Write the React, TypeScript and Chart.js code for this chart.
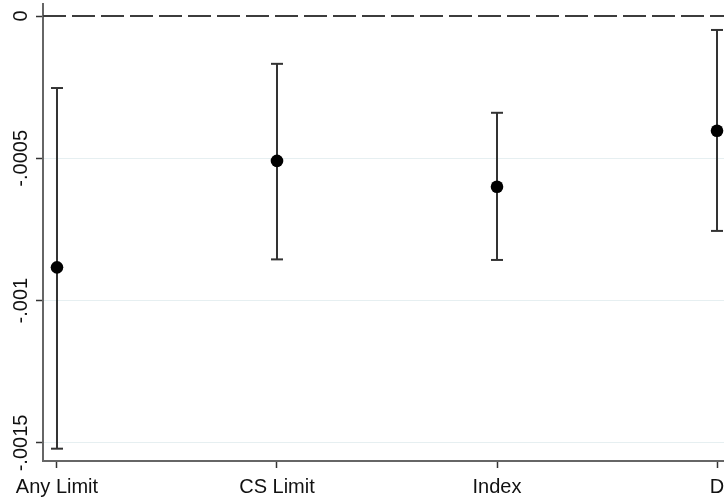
import React, { useEffect, useRef } from "react";
import { Chart, registerables } from "chart.js";

Chart.register(...registerables);

const categories = ["Any Limit", "CS Limit", "Index", "D"];
const estimates = [-0.000883, -0.000509, -0.0006, -0.000403];
const ciUpper = [-0.000253, -0.000168, -0.00034, -0.000049];
const ciLower = [-0.00152, -0.000855, -0.000857, -0.000755];
const yTickValues = [0, -0.0005, -0.001, -0.0015];
const yTickLabels = ["0", "-.0005", "-.001", "-.0015"];
const xRange = [-0.0636, 3.0318];
const yRange = [-0.0015633, 0.0000422];

const FONT = "'Liberation Sans', Arial, Helvetica, sans-serif";

export default function App() {
  const ref = useRef<HTMLCanvasElement | null>(null);

  useEffect(() => {
    if (!ref.current) return;
    const pointData = categories.map((_, i) => ({ x: i, y: estimates[i] }));
    const ciData: { x: number; y: number | null }[] = [];
    categories.forEach((_, i) => {
      ciData.push({ x: i, y: ciUpper[i] });
      ciData.push({ x: i, y: ciLower[i] });
      ciData.push({ x: i + 0.5, y: null });
    });
    const zeroData = [
      { x: xRange[0], y: 0 },
      { x: xRange[1], y: 0 },
    ];

    const chart = new Chart(ref.current, {
      type: "scatter",
      data: {
        datasets: [
          {
            type: "scatter",
            data: pointData,
            pointRadius: 6.3,
            pointHoverRadius: 6.3,
            pointBackgroundColor: "#000",
            pointBorderColor: "#000",
            pointBorderWidth: 0,
          },
          {
            type: "line",
            data: ciData,
            showLine: true,
            spanGaps: false,
            borderColor: "#333",
            borderWidth: 2,
            pointStyle: "line",
            pointRadius: 6,
            pointHoverRadius: 6,
            pointBorderColor: "#333",
            pointBorderWidth: 2,
            fill: false,
          } as any,
          {
            type: "line",
            data: zeroData,
            showLine: true,
            borderColor: "#3c3c3c",
            borderWidth: 2,
            borderDash: [23, 6],
            pointRadius: 0,
            fill: false,
          } as any,
        ],
      },
      options: {
        animation: false,
        responsive: false,
        maintainAspectRatio: false,
        events: [],
        layout: { autoPadding: false, padding: { top: 4, right: 0, bottom: 0, left: 0 } },
        plugins: {
          legend: { display: false },
          tooltip: { enabled: false },
          title: { display: false },
        },
        scales: {
          x: {
            type: "linear",
            min: xRange[0],
            max: xRange[1],
            afterBuildTicks: (scale: any) => {
              scale.ticks = categories.map((_, i) => ({ value: i }));
            },
            afterFit: (scale: any) => {
              scale.height = 36;
              scale.paddingLeft = 0;
              scale.paddingRight = 0;
            },
            ticks: {
              autoSkip: false,
              maxRotation: 0,
              minRotation: 0,
              padding: 7,
              color: "#111",
              font: { family: FONT, size: 20 },
              callback: (v: any) => categories[Math.round(Number(v))] ?? "",
            },
            grid: {
              drawOnChartArea: false,
              drawTicks: true,
              tickLength: 7,
              tickColor: "#333",
              tickWidth: 1.5,
            },
            border: { display: true, color: "#666", width: 2 },
          },
          y: {
            type: "linear",
            min: yRange[0],
            max: yRange[1],
            afterBuildTicks: (scale: any) => {
              scale.ticks = yTickValues.map((v) => ({ value: v }));
            },
            afterFit: (scale: any) => {
              scale.width = 43;
              scale.paddingTop = 0;
              scale.paddingBottom = 0;
            },
            ticks: {
              autoSkip: false,
              minRotation: 90,
              maxRotation: 90,
              crossAlign: "center",
              padding: -13.5,
              color: "#111",
              font: { family: FONT, size: 20 },
              callback: (v: any) => {
                const idx = yTickValues.findIndex((t) => Math.abs(t - Number(v)) < 1e-9);
                return idx >= 0 ? yTickLabels[idx] : "";
              },
            },
            grid: {
              drawOnChartArea: true,
              drawTicks: true,
              tickLength: 7,
              tickColor: "#333",
              tickWidth: 1.5,
              lineWidth: 1,
              color: (ctx: any) =>
                ctx.tick && Math.abs(ctx.tick.value) < 1e-12 ? "rgba(0,0,0,0)" : "#e6eff1",
            },
            border: { display: true, color: "#666", width: 2 },
          },
        },
      },
    });
    return () => chart.destroy();
  }, []);

  return (
    <div
      style={{
        position: "absolute",
        left: 0,
        top: 0,
        width: 724,
        height: 497,
        overflow: "hidden",
        background: "#fff",
      }}
    >
      <canvas ref={ref} width={724} height={497} style={{ display: "block" }} />
    </div>
  );
}
